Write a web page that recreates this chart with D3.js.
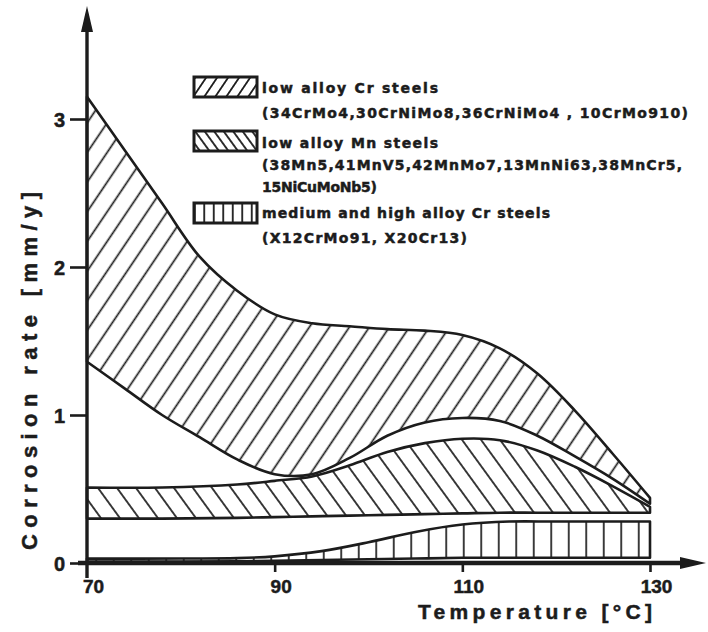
<!DOCTYPE html>
<html>
<head>
<meta charset="utf-8">
<script src="https://cdn.jsdelivr.net/npm/d3@7/dist/d3.min.js"></script>
<style>
  html, body { margin: 0; padding: 0; background: #fff; }
  svg { display: block; }
  text { font-family: "Liberation Sans", Arial, sans-serif; font-weight: 700; fill: #1c1c1c; }
  .heavy { stroke: #1c1c1c; stroke-width: 0.5px; }
  .leg { font-family: "DejaVu Sans", sans-serif; }
</style>
</head>
<body>
<svg id="chart" width="708" height="632"></svg>
<script>
// ---- data ----
// low alloy Cr steels band
const crTemps = [70, 74, 78, 82, 86, 90, 94, 98, 102, 106, 110, 114, 118, 122, 126, 130];
const crHigh  = [3.15, 2.79, 2.43, 2.07, 1.84, 1.68, 1.62, 1.6, 1.58, 1.57, 1.54, 1.45, 1.28, 1.03, 0.74, 0.44];
const crLow   = [1.36, 1.18, 1.0, 0.85, 0.7, 0.6, 0.6, 0.71, 0.86, 0.95, 0.98, 0.96, 0.86, 0.72, 0.57, 0.4];
// low alloy Mn steels band
const mnTemps = [70, 78, 86, 90, 94, 98, 102, 106, 110, 114, 118, 122, 126, 130];
const mnHigh  = [0.51, 0.51, 0.53, 0.555, 0.585, 0.66, 0.75, 0.81, 0.84, 0.83, 0.76, 0.65, 0.52, 0.38];
const mnLow   = [0.3, 0.3, 0.305, 0.31, 0.315, 0.32, 0.325, 0.33, 0.335, 0.34, 0.34, 0.34, 0.34, 0.34];
// medium and high alloy Cr steels band
const medTemps = [70, 80, 86, 90, 95, 100, 105, 110, 115, 120, 130];
const medHigh  = [0.03, 0.03, 0.033, 0.045, 0.08, 0.14, 0.21, 0.26, 0.28, 0.28, 0.28];
const medLow   = [0.01, 0.01, 0.012, 0.015, 0.02, 0.025, 0.03, 0.035, 0.035, 0.035, 0.035];

const xTicks = [70, 90, 110, 130];
const yTicks = [0, 1, 2, 3];
const xTitle = "Temperature [°C]";
const yTitle = "Corrosion rate [mm/y]";
const legendNames = ["low alloy Cr steels", "low alloy Mn steels", "medium and high alloy Cr steels"];
const legendGrades = [
  ["(34CrMo4,30CrNiMo8,36CrNiMo4 , 10CrMo910)"],
  ["(38Mn5,41MnV5,42MnMo7,13MnNi63,38MnCr5,", "15NiCuMoNb5)"],
  ["(X12CrMo91, X20Cr13)"]
];

// ---- drawing ----
const ink = "#1c1c1c";
const svg = d3.select("#chart");
const x = d3.scaleLinear().domain([70, 130]).range([87, 650]);
const y = d3.scaleLinear().domain([0, 3]).range([563, 119]);

const defs = svg.append("defs");
function hatch(id, spacing, angle, sw) {
  const p = defs.append("pattern")
    .attr("id", id).attr("patternUnits", "userSpaceOnUse")
    .attr("width", spacing).attr("height", 20)
    .attr("patternTransform", `rotate(${angle})`);
  p.append("line").attr("x1", spacing / 2).attr("x2", spacing / 2)
    .attr("y1", -2).attr("y2", 22).attr("stroke", ink).attr("stroke-width", sw);
}
hatch("hCr", 20 * Math.sin(56 * Math.PI / 180), 34, 1.7);
hatch("hMn", 19 * Math.sin(54 * Math.PI / 180), -36, 1.7);
hatch("hMed", 17.5, 0, 1.7);
hatch("lCr", 11 * Math.sin(56 * Math.PI / 180), 34, 1.8);
hatch("lMn", 9.5 * Math.sin(54 * Math.PI / 180), -36, 1.8);
hatch("lMed", 9.5, 0, 1.8);

function band(temps, hi, lo, fill) {
  const data = temps.map((t, i) => ({ t, hi: hi[i], lo: lo[i] }));
  const area = d3.area().curve(d3.curveCatmullRom.alpha(0.5))
    .x(d => x(d.t)).y0(d => y(d.lo)).y1(d => y(d.hi));
  svg.append("path").datum(data).attr("d", area)
    .attr("fill", `url(#${fill})`).attr("stroke", ink)
    .attr("stroke-width", 2.6).attr("stroke-linejoin", "round");
}
band(crTemps, crHigh, crLow, "hCr");
band(mnTemps, mnHigh, mnLow, "hMn");
band(medTemps, medHigh, medLow, "hMed");

// axes
const yAxis = d3.axisLeft(y).tickValues(yTicks).tickSize(17).tickPadding(5).tickFormat(d3.format("d"));
const gy = svg.append("g").attr("transform", `translate(${x(70)},0)`).call(yAxis);
gy.select(".domain").remove();
gy.selectAll(".tick line").attr("stroke", ink).attr("stroke-width", 2.6);
gy.selectAll(".tick text").attr("font-size", 20).attr("dy", "0.36em").attr("fill", ink)
  .attr("class", "heavy")
  .style("font-family", "Liberation Sans, Arial, sans-serif").style("font-weight", 700);

const xAxis = d3.axisBottom(x).tickValues(xTicks).tickSize(9).tickPadding(8).tickFormat(d3.format("d"));
const gx = svg.append("g").attr("transform", `translate(0,${y(0)})`).call(xAxis);
gx.select(".domain").remove();
gx.selectAll(".tick line").attr("stroke", ink).attr("stroke-width", 2.6);
gx.selectAll(".tick line").filter(d => d === 70).remove();
gx.selectAll(".tick text").attr("font-size", 19).attr("dx", 6).attr("fill", ink)
  .attr("class", "heavy")
  .style("font-family", "Liberation Sans, Arial, sans-serif").style("font-weight", 700);

// axis lines with arrows
svg.append("line").attr("x1", x(70)).attr("x2", x(70)).attr("y1", 578).attr("y2", 22)
  .attr("stroke", ink).attr("stroke-width", 3.4);
svg.append("path").attr("d", `M${x(70)},6 L${x(70) - 6},32 L${x(70) + 6},32 Z`).attr("fill", ink);
svg.append("line").attr("x1", 78).attr("x2", 690).attr("y1", y(0)).attr("y2", y(0))
  .attr("stroke", ink).attr("stroke-width", 4.5);
svg.append("path").attr("d", `M706,${y(0)} L680,${y(0) - 6} L680,${y(0) + 6} Z`).attr("fill", ink);

// axis titles
svg.append("text").attr("class", "heavy").attr("x", 418).attr("y", 619).attr("font-size", 21)
  .attr("textLength", 234).attr("lengthAdjust", "spacing").text(xTitle);
svg.append("text").attr("class", "heavy").attr("transform", "translate(37,371) rotate(-90)")
  .attr("text-anchor", "middle").attr("font-size", 22)
  .attr("textLength", 358).attr("lengthAdjust", "spacing").text(yTitle);

// legend
const legBoxes = [{ y: 77, fill: "lCr" }, { y: 131, fill: "lMn" }, { y: 203, fill: "lMed" }];
const nameBase = [93, 148, 218];
const nameLen = [176, 176, 288];
const gradeBase = [[118], [170, 192], [243]];
const gradeLen = [[426], [420, 115], [205]];
legBoxes.forEach((b, i) => {
  svg.append("rect").attr("x", 194).attr("y", b.y).attr("width", 63).attr("height", 20)
    .attr("fill", `url(#${b.fill})`).attr("stroke", ink).attr("stroke-width", 3);
  svg.append("text").attr("class", "leg heavy").attr("x", 262).attr("y", nameBase[i]).attr("font-size", 14)
    .attr("textLength", nameLen[i]).attr("lengthAdjust", "spacing").text(legendNames[i]);
  legendGrades[i].forEach((g, j) => {
    svg.append("text").attr("class", "leg heavy").attr("x", 262).attr("y", gradeBase[i][j]).attr("font-size", 14)
      .attr("textLength", gradeLen[i][j]).attr("lengthAdjust", "spacing").text(g);
  });
});
</script>
</body>
</html>
